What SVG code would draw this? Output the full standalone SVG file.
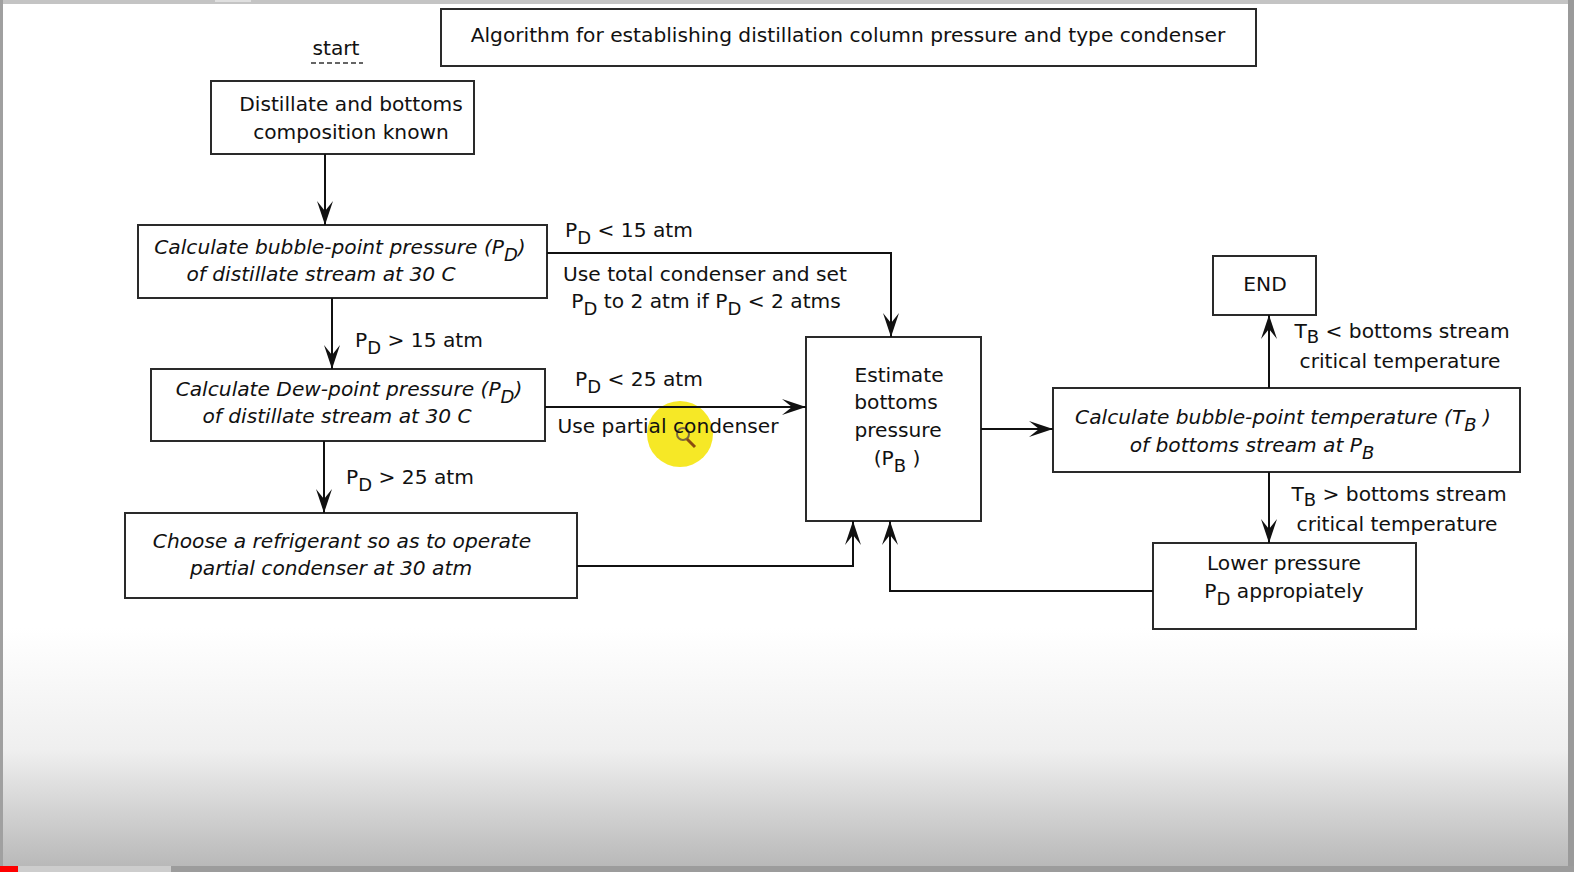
<svg xmlns="http://www.w3.org/2000/svg" width="1574" height="872" viewBox="0 0 1574 872">
<style>
.bx{fill:#fff;stroke:#2a2a2a;stroke-width:2}
.t{font-family:"DejaVu Sans",sans-serif;font-size:20.2px;fill:#111;text-anchor:middle}
.it{font-style:italic}
.c{fill:none;stroke:#111;stroke-width:2}
.s{font-size:18px}
</style>
<defs>
<linearGradient id="bg" x1="0" y1="0" x2="0" y2="1">
<stop offset="0" stop-color="#fff"/>
<stop offset="0.72" stop-color="#fff"/>
<stop offset="0.86" stop-color="#efefef"/>
<stop offset="1" stop-color="#b6b6b6"/>
</linearGradient>
<marker id="ar" viewBox="0 0 24 16" refX="24" refY="8" markerWidth="24" markerHeight="16" markerUnits="userSpaceOnUse" orient="auto">
<path d="M24,8 L0,0 L10,8 L0,16 Z" fill="#111"/>
</marker>
</defs>
<rect x="0" y="0" width="1574" height="872" fill="url(#bg)"/>
<rect x="0" y="0" width="1574" height="4" fill="#c4c4c4"/>
<rect x="215" y="0" width="36" height="2" fill="#e0e0e0"/>
<rect x="0" y="0" width="3" height="866" fill="#a0a0a0"/>
<rect x="1568" y="0" width="6" height="866" fill="#9a9a9a"/>
<rect x="0" y="866" width="1574" height="6" fill="#9c9c9c"/>
<rect x="0" y="866" width="171" height="6" fill="#cdcdcd"/>
<rect x="0" y="866" width="18" height="6" fill="#ff0000"/>

<g id="cursor">
<circle cx="680" cy="434" r="33" fill="#f5e400" fill-opacity="0.85"/>
<circle cx="683" cy="434" r="6" fill="none" stroke="#7a6a40" stroke-width="2"/>
<line x1="687" y1="439" x2="695" y2="447" stroke="#8a4a10" stroke-width="3"/>
</g>

<g id="title"><rect class="bx" x="441" y="9" width="815" height="57"/>
<text class="t" x="848" y="42">Algorithm for establishing distillation column pressure and type condenser</text></g>

<g id="start"><text class="t" x="336" y="55">start</text>
<line x1="311" y1="63" x2="363" y2="63" stroke="#333" stroke-width="1.5" stroke-dasharray="5,3"/></g>

<g id="n1"><rect class="bx" x="211" y="81" width="263" height="73"/>
<text class="t" x="351" y="111">Distillate and bottoms</text>
<text class="t" x="351" y="139">composition known</text></g>

<g id="n2"><rect class="bx" x="138" y="225" width="409" height="73"/>
<text class="t it" x="340" y="254">Calculate bubble-point pressure (P<tspan class="s" dy="7">D</tspan><tspan dy="-7">)</tspan></text>
<text class="t it" x="321" y="281">of distillate stream at 30 C</text></g>

<g id="n3"><rect class="bx" x="151" y="369" width="394" height="72"/>
<text class="t it" x="349" y="396">Calculate Dew-point pressure (P<tspan class="s" dy="7">D</tspan><tspan dy="-7">)</tspan></text>
<text class="t it" x="337" y="423">of distillate stream at 30 C</text></g>

<g id="n4"><rect class="bx" x="125" y="513" width="452" height="85"/>
<text class="t it" x="342" y="548">Choose a refrigerant so as to operate</text>
<text class="t it" x="331" y="575">partial condenser at 30 atm</text></g>

<g id="n5"><rect class="bx" x="806" y="337" width="175" height="184"/>
<text class="t" x="899" y="382">Estimate</text>
<text class="t" x="896" y="409">bottoms</text>
<text class="t" x="898" y="437">pressure</text>
<text class="t" x="897" y="465">(P<tspan class="s" dy="7">B</tspan><tspan dy="-7"> )</tspan></text></g>

<g id="n6"><rect class="bx" x="1053" y="388" width="467" height="84"/>
<text class="t it" x="1283" y="424">Calculate bubble-point temperature (T<tspan class="s" dy="7">B</tspan><tspan dy="-7"> )</tspan></text>
<text class="t it" x="1252" y="452">of bottoms stream  at P<tspan class="s" dy="7">B</tspan></text></g>

<g id="n7"><rect class="bx" x="1213" y="256" width="103" height="59"/>
<text class="t" x="1265" y="291">END</text></g>

<g id="n8"><rect class="bx" x="1153" y="543" width="263" height="86"/>
<text class="t" x="1284" y="570">Lower pressure</text>
<text class="t" x="1284" y="598">P<tspan class="s" dy="7">D</tspan><tspan dy="-7"> appropiately</tspan></text></g>

<g id="connectors">
<path class="c" d="M325,154 V225" marker-end="url(#ar)"/>
<path class="c" d="M547,253 H891 V337" marker-end="url(#ar)"/>
<path class="c" d="M332,298 V369" marker-end="url(#ar)"/>
<path class="c" d="M545,407 H806" marker-end="url(#ar)"/>
<path class="c" d="M324,441 V513" marker-end="url(#ar)"/>
<path class="c" d="M577,566 H853 V521" marker-end="url(#ar)"/>
<path class="c" d="M981,429 H1053" marker-end="url(#ar)"/>
<path class="c" d="M1269,388 V315" marker-end="url(#ar)"/>
<path class="c" d="M1269,472 V543" marker-end="url(#ar)"/>
<path class="c" d="M1153,591 H890 V521" marker-end="url(#ar)"/>
</g>

<g id="labels">
<text class="t" x="629" y="237">P<tspan class="s" dy="7">D</tspan><tspan dy="-7"> &lt; 15 atm</tspan></text>
<text class="t" x="705" y="281">Use total condenser and set</text>
<text class="t" x="706" y="308">P<tspan class="s" dy="7">D</tspan><tspan dy="-7"> to 2 atm if P</tspan><tspan class="s" dy="7">D</tspan><tspan dy="-7"> &lt; 2 atms</tspan></text>
<text class="t" x="419" y="347">P<tspan class="s" dy="7">D</tspan><tspan dy="-7"> &gt; 15 atm</tspan></text>
<text class="t" x="639" y="386">P<tspan class="s" dy="7">D</tspan><tspan dy="-7"> &lt; 25 atm</tspan></text>
<text class="t" x="668" y="433">Use partial condenser</text>
<text class="t" x="410" y="484">P<tspan class="s" dy="7">D</tspan><tspan dy="-7"> &gt; 25 atm</tspan></text>
<text class="t" x="1402" y="338">T<tspan class="s" dy="5">B</tspan><tspan dy="-5"> &lt; bottoms stream</tspan></text>
<text class="t" x="1400" y="368">critical temperature</text>
<text class="t" x="1399" y="501">T<tspan class="s" dy="5">B</tspan><tspan dy="-5"> &gt; bottoms stream</tspan></text>
<text class="t" x="1397" y="531">critical temperature</text>
</g>
</svg>
